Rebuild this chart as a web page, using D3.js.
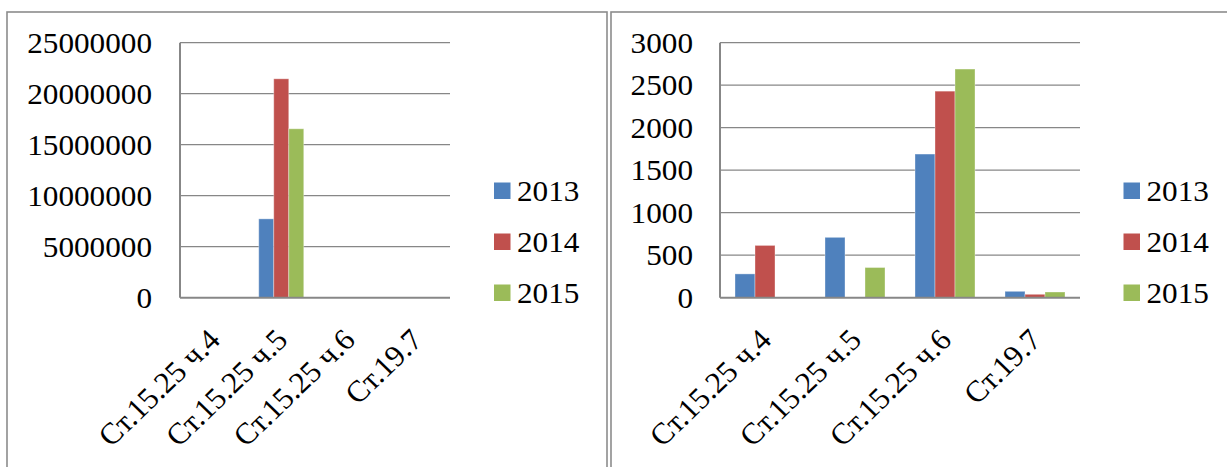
<!DOCTYPE html>
<html>
<head>
<meta charset="utf-8">
<script src="https://cdn.jsdelivr.net/npm/d3@7"></script>
<style>
  html, body { margin: 0; padding: 0; background: #fff; }
  svg { display: block; }
</style>
</head>
<body>
<svg id="chart" width="1227" height="467"></svg>
<script>
// ---- data ----
const categories = ["Ст.15.25 ч.4", "Ст.15.25 ч.5", "Ст.15.25 ч.6", "Ст.19.7"];
const seriesNames = ["2013", "2014", "2015"];
const seriesColors = ["#4F81BD", "#C0504D", "#9BBB59"];

const leftValues2013 = [0, 7730000, 0, 0];
const leftValues2014 = [0, 21460000, 0, 0];
const leftValues2015 = [0, 16560000, 0, 0];
const leftTicks = [0, 5000000, 10000000, 15000000, 20000000, 25000000];

const rightValues2013 = [280, 710, 1690, 75];
const rightValues2014 = [615, 0, 2430, 40];
const rightValues2015 = [0, 355, 2690, 67];
const rightTicks = [0, 500, 1000, 1500, 2000, 2500, 3000];

// ---- drawing ----
const svg = d3.select("#chart");
const FONT = "'Liberation Serif', Tinos, 'Times New Roman', Times, serif";
const FS = 30;      // font size
const SX = 1.04;    // slight horizontal stretch of the original picture

function drawFrame(x, w) {
  svg.append("rect")
    .attr("x", x).attr("y", 12)
    .attr("width", w).attr("height", 480)
    .attr("fill", "none")
    .attr("stroke", "#8c8c8c")
    .attr("stroke-width", 1.6);
}

function drawChart(cfg) {
  const g = svg.append("g");
  const x = d3.scaleBand().domain(categories).range([cfg.x0, cfg.x1]).padding(0);
  const xs = d3.scaleBand().domain(seriesNames).range([0, x.bandwidth()])
    .paddingInner(0).paddingOuter(0.75);
  const y = d3.scaleLinear().domain([0, d3.max(cfg.ticks)]).range([cfg.yBottom, cfg.yTop]);

  // gridlines
  g.selectAll("line.grid").data(cfg.ticks.filter(t => t > 0)).enter().append("line")
    .attr("x1", cfg.x0).attr("x2", cfg.x1)
    .attr("y1", d => y(d)).attr("y2", d => y(d))
    .attr("stroke", "#878787").attr("stroke-width", 1.3);

  // bars
  const rows = [];
  cfg.series.forEach((vals, si) => {
    vals.forEach((v, ci) => {
      if (v > 0) rows.push({ c: categories[ci], s: seriesNames[si], v, color: seriesColors[si] });
    });
  });
  g.selectAll("rect.bar").data(rows).enter().append("rect")
    .attr("x", d => x(d.c) + xs(d.s))
    .attr("width", xs.bandwidth())
    .attr("y", d => y(d.v))
    .attr("height", d => y(0) - y(d.v))
    .attr("fill", d => d.color)
    .attr("stroke", "rgba(255,255,255,0.35)")
    .attr("stroke-width", 1);

  // axes lines
  g.append("line")
    .attr("x1", cfg.x0).attr("x2", cfg.x0)
    .attr("y1", y(d3.max(cfg.ticks))).attr("y2", y(0))
    .attr("stroke", "#878787").attr("stroke-width", 2);
  g.append("line")
    .attr("x1", cfg.x0).attr("x2", cfg.x1)
    .attr("y1", y(0)).attr("y2", y(0))
    .attr("stroke", "#878787").attr("stroke-width", 2);

  // y tick labels
  g.selectAll("text.ytick").data(cfg.ticks).enter().append("text")
    .attr("transform", d => `translate(${cfg.x0 - cfg.labelGap},${y(d)}) scale(${SX},1)`)
    .attr("dy", "0.34em")
    .attr("text-anchor", "end")
    .attr("font-family", FONT)
    .attr("font-size", FS)
    .text(d => d3.format("d")(d));

  // x labels, rotated
  g.selectAll("text.xtick").data(categories).enter().append("text")
    .attr("transform", d => `translate(${x(d) + x.bandwidth() / 2 + 8},${y(0) + 44}) scale(${SX},1) rotate(-45)`)
    .attr("text-anchor", "end")
    .attr("font-family", FONT)
    .attr("font-size", FS)
    .text(d => d);

  // legend
  const leg = g.selectAll("g.leg").data(seriesNames).enter().append("g")
    .attr("transform", (d, i) => `translate(${cfg.legX},${191 + i * 51})`);
  leg.append("rect")
    .attr("x", 0).attr("y", -8.5).attr("width", 16.5).attr("height", 16.5)
    .attr("fill", (d, i) => seriesColors[i]);
  leg.append("text")
    .attr("transform", `translate(23,0) scale(${SX},1)`)
    .attr("dy", "0.34em")
    .attr("font-family", FONT)
    .attr("font-size", FS)
    .text(d => d);
}

drawFrame(7, 600);
drawFrame(611, 640);

drawChart({
  x0: 180, x1: 450, yTop: 42.7, yBottom: 297.7, labelGap: 28, legX: 494,
  ticks: leftTicks,
  series: [leftValues2013, leftValues2014, leftValues2015]
});
drawChart({
  x0: 720, x1: 1080, yTop: 42.7, yBottom: 297.7, labelGap: 27, legX: 1123.5,
  ticks: rightTicks,
  series: [rightValues2013, rightValues2014, rightValues2015]
});
</script>
</body>
</html>
